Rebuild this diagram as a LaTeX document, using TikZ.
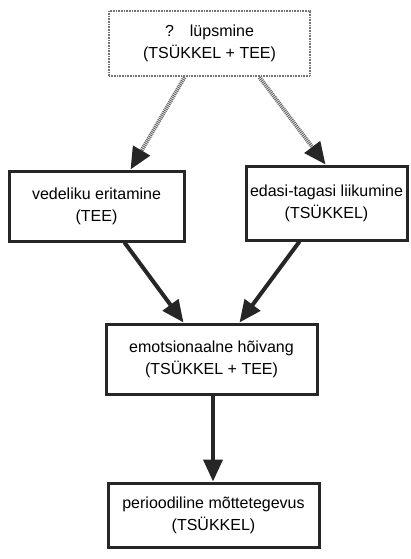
\documentclass[tikz,border=0pt]{standalone}
\usepackage{fontspec}
\setmainfont{Liberation Sans}
\usetikzlibrary{arrows.meta, positioning, calc}

\begin{document}
\begin{tikzpicture}[
    x=1pt, y=-1pt,
    box/.style={rectangle, draw=black!85, line width=3pt, align=center, inner sep=2pt, font=\fontsize{16}{22}\selectfont},
    topbox/.style={box, draw=black!55, line width=2.6pt, dash pattern=on 0.9pt off 0.7pt},
    arrow/.style={draw=black!85, line width=4pt, -{Triangle[length=22pt, width=19pt]}},
    dotarrow/.style={draw=black!60, line width=4pt, dash pattern=on 1pt off 0.9pt, -{Triangle[length=22pt, width=19pt, color=black!85]}}
]
\useasboundingbox (0,0) rectangle (410,559);

\node[topbox, minimum width=201pt, minimum height=65pt] (lyps) at (209.5,43.5) {?\quad lüpsmine\\(TSÜKKEL + TEE)};
\node[box, minimum width=175pt, minimum height=70pt] (vedel) at (96.5,206) {vedeliku eritamine\\(TEE)};
\node[box, minimum width=161pt, minimum height=74pt] (edasi) at (326.5,203) {edasi-tagasi liikumine\\(TSÜKKEL)};
\node[box, minimum width=211pt, minimum height=70pt] (emots) at (211.5,359) {emotsionaalne hõivang\\(TSÜKKEL + TEE)};
\node[box, minimum width=211pt, minimum height=64pt] (period) at (213.5,515) {perioodiline mõttetegevus\\(TSÜKKEL)};

\draw[dotarrow] ([xshift=-25pt]lyps.south) -- ([xshift=34pt]vedel.north);
\draw[dotarrow] ([xshift=50pt]lyps.south) -- ([xshift=-1pt]edasi.north);
\draw[arrow] ([xshift=28pt]vedel.south) -- ([xshift=-28pt]emots.north);
\draw[arrow] ([xshift=-27pt]edasi.south) -- ([xshift=28pt]emots.north);
\draw[arrow] ([xshift=1.5pt]emots.south) -- ([xshift=1.5pt]emots.south |- period.north);
\end{tikzpicture}
\end{document}
